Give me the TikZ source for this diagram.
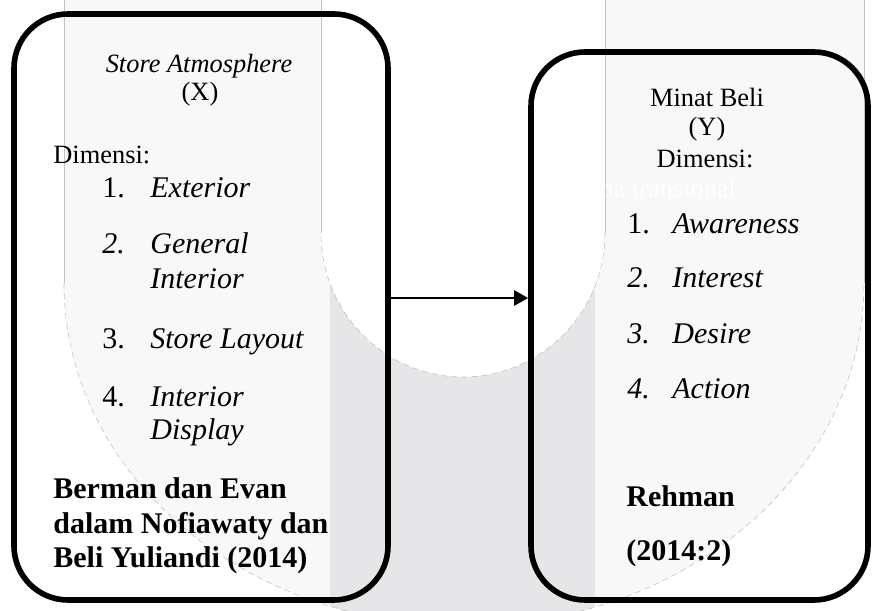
\documentclass[tikz,border=0pt]{standalone}
\usepackage{fontspec}
\setmainfont{Liberation Serif}
\usepackage{tikz}
\usetikzlibrary{arrows.meta}
\usetikzlibrary{positioning}

\definecolor{stripgrey}{HTML}{F8F8F8}
\definecolor{bandgrey}{HTML}{E6E6E9}
\definecolor{edgegrey}{HTML}{C2C2C2}

\tikzset{
  varbox/.style={draw, line width=2.8pt, rounded corners=27pt, inner sep=0pt},
  headtext/.style={font=\fontsize{13.2}{15}\selectfont, inner sep=0pt, anchor=base},
  numtext/.style={font=\fontsize{15}{17}\selectfont, inner sep=0pt, anchor=base west},
  itemtext/.style={font=\fontsize{15}{17}\selectfont\itshape, inner sep=0pt, anchor=base west},
  reftext/.style={font=\fontsize{15}{17}\selectfont\bfseries, inner sep=0pt, anchor=base west},
}

\begin{document}
\begin{tikzpicture}[x=0.5pt,y=-0.5pt]
\useasboundingbox (0,0) rectangle (874,611);
\def\upath{(64,0) -- (64,283) arc[start angle=180, end angle=0, x radius=400, y radius=343] -- (864,0) -- (605,0) -- (605,233) arc[start angle=0, end angle=180, x radius=142, y radius=144] -- (321,0) -- cycle}

% background U band
\fill[stripgrey] \upath;
\begin{scope}
\clip \upath;
\fill[bandgrey] (330,0) rectangle (595,611);
\end{scope}
\draw[edgegrey, line width=0.3pt] (64,0) -- (64,283);
\draw[edgegrey, line width=0.3pt] (864,0) -- (864,283);
\draw[edgegrey, line width=0.3pt] (321,0) -- (321,233);
\draw[edgegrey, line width=0.3pt] (605,0) -- (605,233);
\draw[edgegrey, line width=0.3pt, densely dashed] (64,283) arc[start angle=180, end angle=0, x radius=400, y radius=343];
\draw[edgegrey, line width=0.3pt, densely dashed] (605,233) arc[start angle=0, end angle=180, x radius=142, y radius=144];
\node[headtext, anchor=base west, text=white] (ghost) at (600,197) {na transional};

% the two boxes
\node[varbox, minimum width=187pt, minimum height=293pt] (xbox) at (201,307) {};
\node[varbox, minimum width=168.5pt, minimum height=274pt] (ybox) at (699.5,326) {};

\coordinate (arrowlevel) at (0,298);
\draw[line width=1.3pt, -{Triangle[length=7pt,width=7.5pt]}] (xbox.east |- arrowlevel) -- (ybox.west |- arrowlevel);

% left box text
\node[headtext, font=\fontsize{13.2}{15}\selectfont\itshape] (xname) at (199,72) {Store Atmosphere};
\node[headtext] (xvar) at (200,100) {(X)};
\node[headtext, anchor=base west] (xdim) at (53,163) {Dimensi:};

\node[numtext] (xnum1) at (102,197) {1.};
\node[itemtext] (xitem1) at (150,197) {Exterior};
\node[itemtext] (xnum2) at (102,253) {2.};
\node[itemtext] (xitem2) at (150,253) {General};
\node[itemtext] (xitem2b) at (150,288) {Interior};
\node[numtext] (xnum3) at (102,348) {3.};
\node[itemtext] (xitem3) at (150,348) {Store Layout};
\node[numtext] (xnum4) at (102,406) {4.};
\node[itemtext] (xitem4) at (150,406) {Interior};
\node[itemtext] (xitem4b) at (150,439) {Display};

\node[reftext] (xref1) at (53,498) {Berman dan Evan};
\node[reftext] (xref2) at (53,533) {dalam Nofiawaty dan};
\node[reftext] (xref3) at (53,567) {Beli Yuliandi (2014)};

% right box text
\node[headtext] (yname) at (707,106) {Minat Beli};
\node[headtext] (yvar) at (707,135) {(Y)};
\node[headtext] (ydim) at (705,167) {Dimensi:};

\foreach \num/\word/\yy [count=\i] in {1./Awareness/233, \textit{2.}/Interest/287, \textit{3.}/Desire/343, \textit{4.}/Action/398}
{
	\node[numtext] (ynum\i) at (627,\yy) {\num};
	\node[itemtext] (yitem\i) at (672,\yy) {\word};
}

\node[reftext] (yref1) at (626,506) {Rehman};
\node[reftext] (yref2) at (626,560) {(2014:2)};

\end{tikzpicture}
\end{document}
